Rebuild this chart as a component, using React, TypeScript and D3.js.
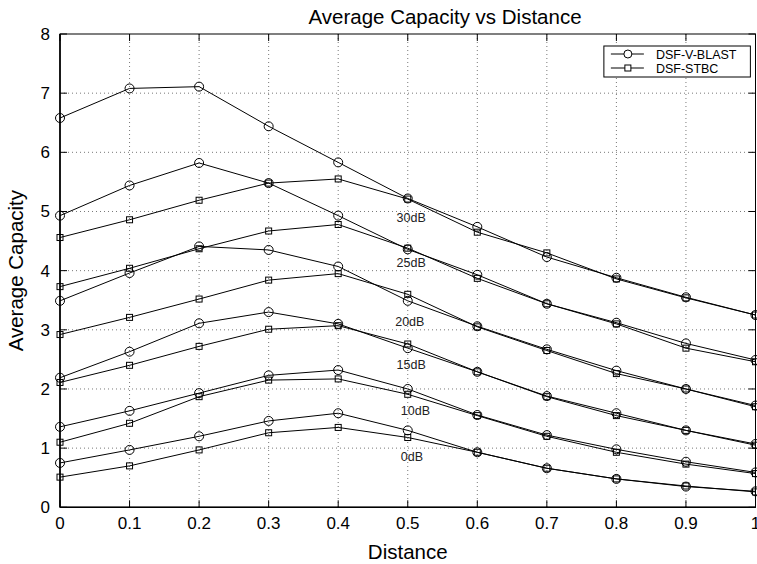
import React from 'react';
import * as d3 from 'd3';

// distance values on the x axis
const distance = [0, 0.1, 0.2, 0.3, 0.4, 0.5, 0.6, 0.7, 0.8, 0.9, 1];

// DSF-V-BLAST (circles) per SNR
const vblast30 = [6.58, 7.08, 7.11, 6.44, 5.83, 5.22, 4.74, 4.23, 3.88, 3.55, 3.25];
const vblast25 = [4.93, 5.44, 5.82, 5.48, 4.93, 4.36, 3.93, 3.44, 3.12, 2.77, 2.49];
const vblast20 = [3.49, 3.96, 4.41, 4.35, 4.07, 3.49, 3.06, 2.67, 2.31, 2.0, 1.72];
const vblast15 = [2.19, 2.63, 3.11, 3.3, 3.1, 2.69, 2.29, 1.88, 1.59, 1.3, 1.07];
const vblast10 = [1.36, 1.63, 1.93, 2.23, 2.32, 2.0, 1.56, 1.22, 0.98, 0.77, 0.59];
const vblast0 = [0.75, 0.97, 1.2, 1.46, 1.59, 1.3, 0.93, 0.66, 0.48, 0.35, 0.27];

// DSF-STBC (squares) per SNR
const stbc30 = [4.56, 4.86, 5.19, 5.48, 5.55, 5.21, 4.65, 4.3, 3.86, 3.54, 3.25];
const stbc25 = [3.73, 4.04, 4.37, 4.67, 4.78, 4.38, 3.87, 3.44, 3.1, 2.69, 2.46];
const stbc20 = [2.92, 3.21, 3.52, 3.84, 3.95, 3.6, 3.05, 2.65, 2.26, 2.0, 1.7];
const stbc15 = [2.11, 2.4, 2.72, 3.01, 3.07, 2.76, 2.29, 1.87, 1.55, 1.3, 1.05];
const stbc10 = [1.1, 1.42, 1.87, 2.15, 2.17, 1.91, 1.55, 1.2, 0.93, 0.73, 0.57];
const stbc0 = [0.51, 0.7, 0.97, 1.26, 1.35, 1.18, 0.93, 0.66, 0.48, 0.36, 0.26];

const vblastSeries = [vblast30, vblast25, vblast20, vblast15, vblast10, vblast0];
const stbcSeries = [stbc30, stbc25, stbc20, stbc15, stbc10, stbc0];

// SNR annotations (text, x, y in data units)
const snrLabels = ['30dB', '25dB', '20dB', '15dB', '10dB', '0dB'];
const snrLabelX = [0.484, 0.484, 0.482, 0.484, 0.49, 0.49];
const snrLabelY = [4.82, 4.07, 3.06, 2.33, 1.56, 0.78];

const xTicks = [0, 0.1, 0.2, 0.3, 0.4, 0.5, 0.6, 0.7, 0.8, 0.9, 1];
const yTicks = [0, 1, 2, 3, 4, 5, 6, 7, 8];

const App = () => {
  const width = 757;
  const height = 564;
  const margin = { top: 34, right: 1.5, bottom: 56.7, left: 60 };
  const innerWidth = width - margin.left - margin.right;
  const innerHeight = height - margin.top - margin.bottom;

  const x = d3.scaleLinear().domain([0, 1]).range([0, innerWidth]);
  const y = d3.scaleLinear().domain([0, 8]).range([innerHeight, 0]);

  const line = d3
    .line<number>()
    .x((d, i) => x(distance[i]))
    .y((d) => y(d));

  const font = 'Liberation Sans, Arial, sans-serif';
  const tickLen = 7;
  const sq = 6;

  return (
    <svg
      width={width}
      height={height}
      style={{ position: 'absolute', left: 0, top: 0, background: '#fff' }}
      fontFamily={font}
    >
      <text x={445} y={24} fontSize={20.5} textAnchor='middle'>
        Average Capacity vs Distance
      </text>
      <g transform={`translate(${margin.left},${margin.top})`}>
        {/* grid */}
        {xTicks.slice(1, -1).map((t) => (
          <line key={'gx' + t} x1={x(t)} x2={x(t)} y1={0} y2={innerHeight}
            stroke='#555' strokeWidth={0.8} strokeDasharray='1,3' />
        ))}
        {yTicks.slice(1, -1).map((t) => (
          <line key={'gy' + t} x1={0} x2={innerWidth} y1={y(t)} y2={y(t)}
            stroke='#555' strokeWidth={0.8} strokeDasharray='1,3' />
        ))}

        {/* series */}
        {vblastSeries.map((s, k) => (
          <g key={'v' + k}>
            <path d={line(s) || ''} fill='none' stroke='#000' strokeWidth={1} />
            {s.map((v, i) => (
              <circle key={i} cx={x(distance[i])} cy={y(v)} r={4.5}
                fill='none' stroke='#000' strokeWidth={1} />
            ))}
          </g>
        ))}
        {stbcSeries.map((s, k) => (
          <g key={'s' + k}>
            <path d={line(s) || ''} fill='none' stroke='#000' strokeWidth={1} />
            {s.map((v, i) => (
              <rect key={i} x={x(distance[i]) - sq / 2} y={y(v) - sq / 2}
                width={sq} height={sq} fill='none' stroke='#000' strokeWidth={1} />
            ))}
          </g>
        ))}

        {snrLabels.map((t, i) => (
          <text key={t} x={x(snrLabelX[i])} y={y(snrLabelY[i])} fontSize={12.5}
            fill='#222'>
            {t}
          </text>
        ))}

        {/* axes box with inward ticks */}
        <rect x={0} y={0} width={innerWidth} height={innerHeight} fill='none'
          stroke='#000' strokeWidth={1} />
        <line x1={0} x2={0} y1={0} y2={innerHeight} stroke='#000' strokeWidth={1.6} />
        <line x1={0} x2={innerWidth} y1={innerHeight} y2={innerHeight} stroke='#000' strokeWidth={1.6} />
        {xTicks.map((t) => (
          <g key={'tx' + t}>
            <line x1={x(t)} x2={x(t)} y1={innerHeight} y2={innerHeight - tickLen} stroke='#000' />
            <line x1={x(t)} x2={x(t)} y1={0} y2={tickLen} stroke='#000' />
            <text x={x(t)} y={innerHeight + 22} fontSize={17} textAnchor='middle'>
              {d3.format('~g')(t)}
            </text>
          </g>
        ))}
        {yTicks.map((t) => (
          <g key={'ty' + t}>
            <line x1={0} x2={tickLen} y1={y(t)} y2={y(t)} stroke='#000' />
            <line x1={innerWidth} x2={innerWidth - tickLen} y1={y(t)} y2={y(t)} stroke='#000' />
            <text x={-10} y={y(t) + 6} fontSize={17} textAnchor='end'>
              {t}
            </text>
          </g>
        ))}

        <text x={innerWidth / 2} y={innerHeight + 52} fontSize={20.5} textAnchor='middle'>
          Distance
        </text>
        <text transform={`translate(-37,${innerHeight / 2}) rotate(-90)`} fontSize={20.5}
          textAnchor='middle'>
          Average Capacity
        </text>

        {/* legend */}
        <g transform={`translate(${x(0.782)},${12})`}>
          <rect x={0} y={0} width={146.5} height={31} fill='#fff' stroke='#000' strokeWidth={1} />
          <line x1={7} x2={40} y1={8} y2={8} stroke='#000' />
          <circle cx={24} cy={8} r={4} fill='#fff' stroke='#000' />
          <text x={52} y={12.5} fontSize={12.5}>DSF-V-BLAST</text>
          <line x1={7} x2={40} y1={22} y2={22} stroke='#000' />
          <rect x={21} y={19} width={6} height={6} fill='#fff' stroke='#000' />
          <text x={52} y={26.5} fontSize={12.5}>DSF-STBC</text>
        </g>
      </g>
    </svg>
  );
};

export default App;
